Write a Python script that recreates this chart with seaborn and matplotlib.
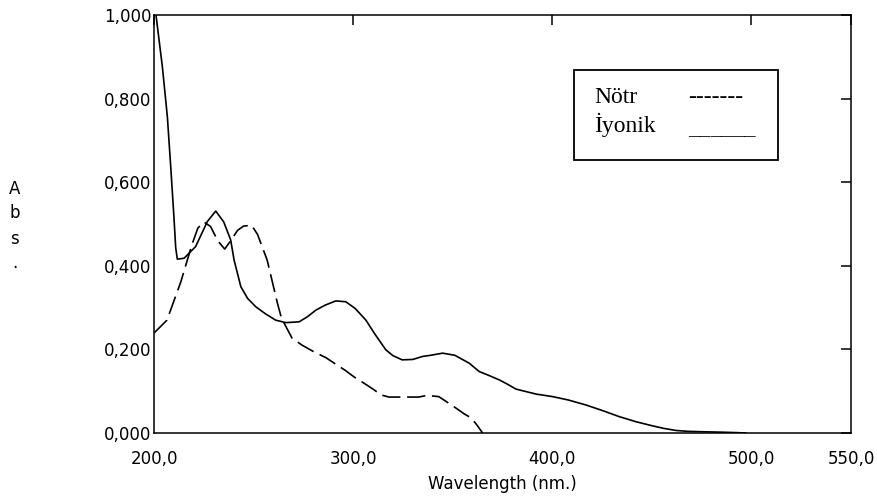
import matplotlib
matplotlib.use("Agg")
import matplotlib.pyplot as plt
from matplotlib.patches import Rectangle
import seaborn as sns

# Absorbans spektrumu verileri
wl_notr = [200, 206.5, 213.5, 219, 222, 225, 228.4, 232, 235.5, 238.5, 242, 245,
           249, 252, 256.8, 259.5, 262, 264, 269.3, 274.4, 280, 286.4, 290.5,
           296, 300.5, 304.5, 310, 314, 318, 333, 337, 343, 350, 356, 359.3,
           362, 365]
abs_notr = [0.239, 0.27, 0.362, 0.45, 0.49, 0.505, 0.494, 0.46, 0.44, 0.46,
            0.485, 0.495, 0.497, 0.475, 0.414, 0.36, 0.31, 0.275, 0.227, 0.21,
            0.195, 0.18, 0.167, 0.15, 0.134, 0.122, 0.105, 0.091, 0.086, 0.086,
            0.09, 0.087, 0.065, 0.045, 0.036, 0.02, 0.0]

wl_iyonik = [201, 204.2, 206.7, 208.4, 210, 210.9, 211.7, 215.1, 220.9, 226.8,
             231, 235, 238.5, 240.2, 243.6, 247, 251.1, 256, 261.1, 266.2,
             272.9, 277, 281.3, 286, 291.3, 296.3, 301, 306.4, 311, 316.4,
             320, 324.6, 330, 334.7, 339, 344.9, 351, 358.3, 363.3, 368, 373.4,
             377, 381.8, 386, 392, 400.2, 408, 416.9, 425, 433.7, 442, 450.4,
             456, 462.2, 468, 475.4, 485, 492, 497.3]
abs_iyonik = [1.0, 0.876, 0.757, 0.637, 0.517, 0.443, 0.416, 0.418, 0.446, 0.506,
              0.531, 0.505, 0.462, 0.414, 0.35, 0.322, 0.302, 0.285, 0.27, 0.264,
              0.266, 0.278, 0.294, 0.306, 0.316, 0.314, 0.298, 0.27, 0.236, 0.199,
              0.185, 0.175, 0.176, 0.183, 0.186, 0.191, 0.186, 0.167, 0.147, 0.138,
              0.127, 0.118, 0.105, 0.1, 0.093, 0.087, 0.079, 0.067, 0.054, 0.039,
              0.027, 0.017, 0.011, 0.006, 0.004, 0.003, 0.002, 0.001, 0.0]

x_ticks = [200, 300, 400, 500, 550]
x_labels = ["200,0", "300,0", "400,0", "500,0", "550,0"]
y_ticks = [0.0, 0.2, 0.4, 0.6, 0.8, 1.0]
y_labels = ["0,000", "0,200", "0,400", "0,600", "0,800", "1,000"]

sns.set_style("white")
plt.rcParams["font.family"] = ["DejaVu Sans"]
plt.rcParams["text.color"] = "black"
plt.rcParams["axes.labelcolor"] = "black"

fig = plt.figure(figsize=(8.77, 5.0), dpi=100)
ax = fig.add_axes([0.1756, 0.134, 0.7948, 0.836])

sns.lineplot(x=wl_notr, y=abs_notr, ax=ax, color="black", linewidth=1.2,
             linestyle=(0, (11, 4)))
sns.lineplot(x=wl_iyonik, y=abs_iyonik, ax=ax, color="black", linewidth=1.2)

ax.set_xlim(200, 550)
ax.set_ylim(0, 1.0)
ax.set_xticks(x_ticks)
ax.set_xticklabels(x_labels)
ax.set_yticks(y_ticks)
ax.set_yticklabels(y_labels)
ax.tick_params(direction="in", length=7, width=1.1, top=True, right=True,
               labelsize=12, colors="black")
ax.tick_params(axis="x", pad=12)
ax.tick_params(axis="y", pad=2)
for s in ax.spines.values():
    s.set_color("black")
    s.set_linewidth(1.1)

ax.set_xlabel("Wavelength (nm.)", fontsize=12, labelpad=5)
fig.text(0.017, 0.548, "A\nb\ns\n.", ha="center", va="center",
         fontsize=12, linespacing=1.5)

# legend kutusu
ax.add_patch(Rectangle((0.602, 0.653), 0.293, 0.215, transform=ax.transAxes,
                       fill=False, edgecolor="black", linewidth=1.3))
serif = ["Liberation Serif", "DejaVu Serif"]
ax.text(0.632, 0.789, "Nötr", transform=ax.transAxes, fontsize=17,
        family=serif, va="baseline")
ax.text(0.766, 0.789, "-------", transform=ax.transAxes, fontsize=17,
        family=serif, va="baseline")
ax.text(0.632, 0.72, "İyonik", transform=ax.transAxes, fontsize=17,
        family=serif, va="baseline")
ax.text(0.766, 0.715, "______", transform=ax.transAxes, fontsize=16,
        family=serif, va="baseline")

fig.savefig("out.png", dpi=100)
